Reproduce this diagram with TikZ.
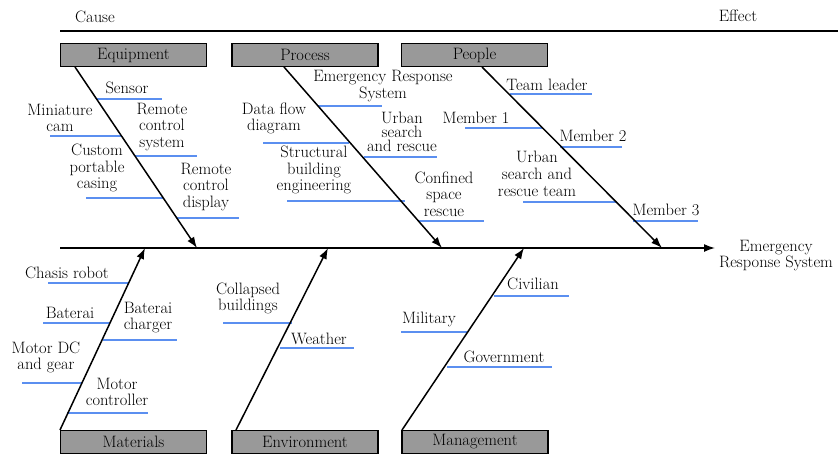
\documentclass[tikz,border=0pt]{standalone}
\usetikzlibrary{arrows.meta}
\definecolor{bl}{HTML}{5B8FF0}
\definecolor{boxgray}{HTML}{999999}
\begin{document}
\begin{tikzpicture}[x=1pt,y=-1pt, font=\fontsize{16.5}{16.7}\selectfont,
 cat/.style={draw, line width=1.3pt, fill=boxgray, minimum width=146pt, minimum height=23pt, inner sep=0pt},
 lbl/.style={align=center, inner sep=0pt},
 tight/.style={font=\fontsize{16.5}{13.8}\selectfont},
 bone/.style={line width=1.5pt, -{Latex[length=11pt,width=8pt]}},
 sub/.style={draw=bl, line width=1.5pt}]
\useasboundingbox (0,0) rectangle (838,455);

% header
\coordinate (t0) at (60,31);
\coordinate (t1) at (838,31);
\draw[line width=1.5pt] (t0) -- (t1);
\node[lbl] (cause) at (95,17) {Cause};
\node[lbl] (effect) at (738,16) {Effect};

% category boxes
\node[cat] (eq) at (133.5,55) {Equipment};
\node[cat] (pr) at (305,55) {Process};
\node[cat] (pe) at (474.5,55) {People};
\node[cat] (ma) at (133.5,442) {Materials};
\node[cat] (en) at (305,442) {Environment};
\node[cat] (mg) at (475,442) {Management};

% blue sub-cause lines
\draw[sub] (97,99) -- (162,99);
\draw[sub] (50,136) -- (122,136);
\draw[sub] (135,156) -- (197,156);
\draw[sub] (86,198) -- (163,198);
\draw[sub] (177,218) -- (239,218);
\draw[sub] (318,106) -- (382,106);
\draw[sub] (263,143) -- (349,143);
\draw[sub] (364,157) -- (437,157);
\draw[sub] (287,201) -- (405,201);
\draw[sub] (418,221) -- (484,221);
\draw[sub] (510,94) -- (592,94);
\draw[sub] (465,128) -- (543,128);
\draw[sub] (560,147) -- (622,147);
\draw[sub] (523,202) -- (617,202);
\draw[sub] (633,221) -- (698,221);
\draw[sub] (48,283) -- (129,283);
\draw[sub] (43,323) -- (110,323);
\draw[sub] (103,340) -- (177,340);
\draw[sub] (22,383) -- (82,383);
\draw[sub] (67,413) -- (148,413);
\draw[sub] (223,323) -- (292,323);
\draw[sub] (280,348) -- (354,348);
\draw[sub] (494,296) -- (569,296);
\draw[sub] (401,332) -- (467,332);
\draw[sub] (447,367) -- (552,367);

% spine
\coordinate (sp0) at (60,248);
\coordinate (sp1) at (715,248);
\node[lbl] (ers) at (776,255.5) {Emergency\\Response System};
\draw[bone] (sp0) -- (sp1);

% bones
\coordinate (eqs) at (75,67);   \coordinate (eqt) at (197,248);
\coordinate (prs) at (284,67);  \coordinate (prt) at (442,248);
\coordinate (pes) at (482,67);  \coordinate (pet) at (662,248);
\coordinate (mas) at (60,430);  \coordinate (mat) at (145,248);
\coordinate (ens) at (236,430); \coordinate (ent) at (328,248);
\coordinate (mgs) at (402,430); \coordinate (mgt) at (524,248);
\draw[bone] (eqs) -- (eqt);
\draw[bone] (prs) -- (prt);
\draw[bone] (pes) -- (pet);
\draw[bone] (mas) -- (mat);
\draw[bone] (ens) -- (ent);
\draw[bone] (mgs) -- (mgt);

% Equipment labels
\node[lbl] (sensor) at (127,88) {Sensor};
\node[lbl] (mcam) at (60,118) {Miniature\\cam};
\node[lbl] (rcs) at (162,127) {Remote\\control\\system};
\node[lbl] (cpc) at (97,168) {Custom\\portable\\casing};
\node[lbl] (rcd) at (206,187) {Remote\\control\\display};

% Process labels
\node[lbl] (pers) at (383,86) {Emergency Response\\System};
\node[lbl] (dfd) at (274,118.5) {Data flow\\diagram};
\node[lbl,tight] (usr) at (402,132) {Urban\\search\\and rescue};
\node[lbl] (sbe) at (314,170) {Structural\\building\\engineering};
\node[lbl] (csr) at (444,194) {Confined\\space\\rescue};

% People labels
\node[lbl] (tl) at (547,85) {Team leader};
\node[lbl] (m1) at (476,118) {Member 1};
\node[lbl] (m2) at (593,136) {Member 2};
\node[lbl] (usrt) at (537,174) {Urban\\search and\\rescue team};
\node[lbl] (m3) at (666,210) {Member 3};

% Materials labels
\node[lbl] (chr) at (67,273) {Chasis robot};
\node[lbl] (bat) at (70,313) {Baterai};
\node[lbl] (batc) at (148,317.5) {Baterai\\charger};
\node[lbl] (mdc) at (46,357.5) {Motor DC\\and gear};
\node[lbl] (mctl) at (117,392) {Motor\\controller};

% Environment labels
\node[lbl] (colb) at (248,298.5) {Collapsed\\buildings};
\node[lbl] (wea) at (319,339) {Weather};

% Management labels
\node[lbl] (civ) at (533,284) {Civilian};
\node[lbl] (mil) at (429,319) {Military};
\node[lbl] (gov) at (504,357) {Government};
\end{tikzpicture}
\end{document}
